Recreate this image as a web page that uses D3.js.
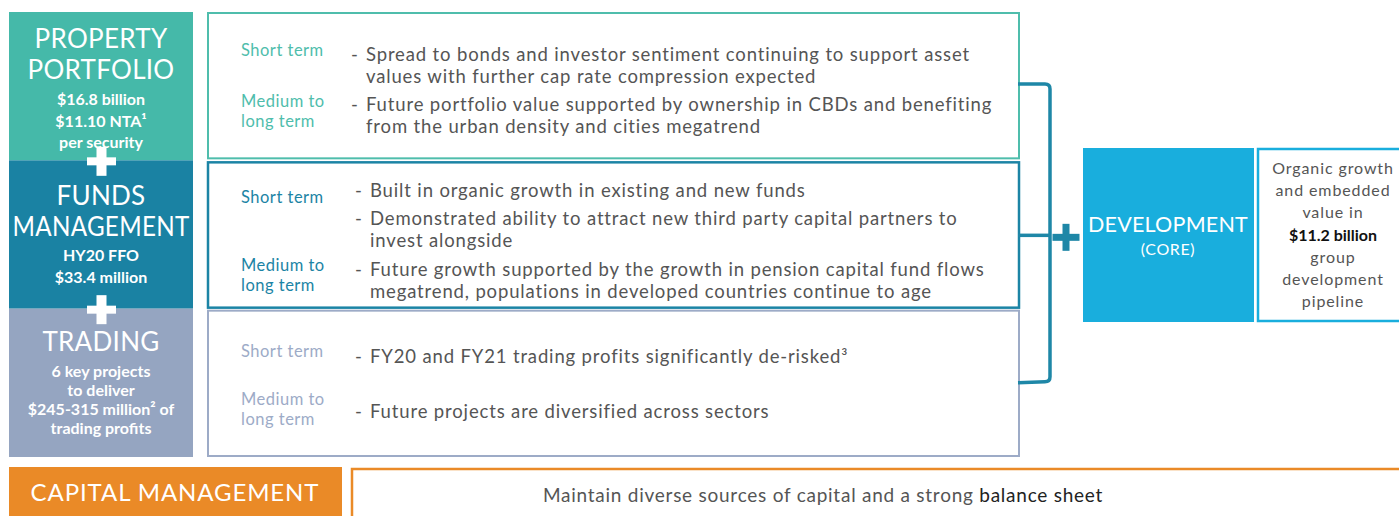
<!DOCTYPE html>
<html>
<head>
<meta charset="utf-8">
<script src="https://cdn.jsdelivr.net/npm/d3@7"></script>
<style>
  body { margin: 0; background: #fff; }
  svg { display: block; font-family: Lato, "Open Sans", sans-serif; }
</style>
</head>
<body>
<div id="chart"></div>
<script>
// pilares do lado esquerdo
const pillars = ["property", "funds", "trading"];
const pillarTitles = [["PROPERTY", "PORTFOLIO"], ["FUNDS", "MANAGEMENT"], ["TRADING"]];
const pillarDetails = [
  ["$16.8 billion", "$11.10 NTA¹", "per security"],
  ["HY20 FFO", "$33.4 million"],
  ["6 key projects", "to deliver", "$245-315 million² of", "trading profits"]
];
const termLabels = [["Short term"], ["Medium to", "long term"]];

// bullets: cada item é um marcador com suas linhas
const shortTermBullets = [
  [["Spread to bonds and investor sentiment continuing to support asset", "values with further cap rate compression expected"]],
  [["Built in organic growth in existing and new funds"], ["Demonstrated ability to attract new third party capital partners to", "invest alongside"]],
  [["FY20 and FY21 trading profits significantly de-risked³"]]
];
const mediumTermBullets = [
  [["Future portfolio value supported by ownership in CBDs and benefiting", "from the urban density and cities megatrend"]],
  [["Future growth supported by the growth in pension capital fund flows", "megatrend, populations in developed countries continue to age"]],
  [["Future projects are diversified across sectors"]]
];

const devTitle = ["DEVELOPMENT", "(CORE)"];
const devText = ["Organic growth", "and embedded", "value in", "$11.2 billion", "group", "development", "pipeline"];
const capitalTitle = "CAPITAL MANAGEMENT";
const capitalText = ["Maintain diverse sources of capital and a strong ", "balance sheet"];

const W = 1399, H = 516;
const colors = { property: "#45b9a9", funds: "#1a82a3", trading: "#95a5c1" };
const borders = { property: "#4fbdac", funds: "#1c84a5", trading: "#9dabc7" };
const textGrey = "#555";

const svg = d3.select("#chart").append("svg").attr("width", W).attr("height", H);

const y = d3.scaleBand().domain(pillars).range([12, 457]).paddingInner(0);

// posições verticais dentro de cada linha (relativas ao topo)
const layout = {
  property: { short: 44, shortB: [49], medium: 95, mediumB: [99] },
  funds: { short: 43, shortB: [37, 65], medium: 111, mediumB: [116] },
  trading: { short: 48, shortB: [54], medium: 96, mediumB: [109] }
};
const lineH = 22;

// caixas coloridas da esquerda
const left = svg.append("g");
left.selectAll("rect").data(pillars).join("rect")
  .attr("x", 9).attr("y", d => y(d))
  .attr("width", 184).attr("height", y.bandwidth())
  .attr("fill", d => colors[d]);

pillars.forEach((p, i) => {
  const g = left.append("g").attr("transform", `translate(101,${y(p)})`);
  const tops = i === 0 ? [36, 67] : i === 1 ? [45, 76] : [42];
  g.selectAll("text.t").data(pillarTitles[i]).join("text")
    .attr("class", "t")
    .attr("y", (d, j) => tops[j])
    .attr("text-anchor", "middle").attr("fill", "#fff")
    .attr("font-size", 26).attr("letter-spacing", 0.3)
    .text(d => d)
    .each(function () {
      // encolhe linhas largas demais para caber na caixa
      if (this.getComputedTextLength() > 177) {
        d3.select(this).attr("textLength", 177).attr("lengthAdjust", "spacingAndGlyphs");
      }
    });
  const d0 = i === 0 ? 93 : i === 1 ? 101 : 68;
  const dh = i === 2 ? 19 : 21.5;
  g.selectAll("text.d").data(pillarDetails[i]).join("text")
    .attr("class", "d")
    .attr("y", (d, j) => d0 + j * dh)
    .attr("text-anchor", "middle").attr("fill", "#fff")
    .attr("font-size", 16).attr("font-weight", 700)
    .text(d => d);
});

// sinais de mais entre os pilares
function plus(g, cx, cy, arm, thickH, thickV, color) {
  g.append("rect").attr("x", cx - arm / 2).attr("y", cy - thickH / 2)
    .attr("width", arm).attr("height", thickH).attr("fill", color);
  g.append("rect").attr("x", cx - thickV / 2).attr("y", cy - arm / 2)
    .attr("width", thickV).attr("height", arm).attr("fill", color);
}
pillars.slice(1).forEach(p => plus(left, 101.5, y(p) + 1, 29, 8, 10, "#fff"));

// caixas de texto do meio
const mid = svg.append("g");
pillars.forEach((p, i) => {
  const top = y(p);
  const bw = i === 1 ? 2.5 : 2;
  mid.append("rect")
    .attr("x", 208).attr("y", top + (i === 0 ? 1 : 2))
    .attr("width", 811).attr("height", y.bandwidth() - 3)
    .attr("fill", "#fff").attr("stroke", borders[p]).attr("stroke-width", bw);

  const L = layout[p];
  const labelColor = borders[p];
  mid.append("text").attr("x", 241).attr("y", top + L.short)
    .attr("fill", labelColor).attr("font-size", 16.5).attr("letter-spacing", 0.5)
    .text(termLabels[0][0]);
  mid.selectAll(null).data(termLabels[1]).join("text")
    .attr("x", 241).attr("y", (d, j) => top + L.medium + j * 20)
    .attr("fill", labelColor).attr("font-size", 16.5).attr("letter-spacing", 0.5)
    .text(d => d);

  const dashX = i === 0 ? 351 : 355;
  const txtX = i === 0 ? 366 : 370;
  const drawBullets = (bullets, ys) => {
    bullets.forEach((lines, k) => {
      mid.append("text").attr("x", dashX).attr("y", top + ys[k])
        .attr("fill", textGrey).attr("font-size", 18.5).text("-");
      lines.forEach((ln, j) => {
        mid.append("text").attr("x", txtX).attr("y", top + ys[k] + j * lineH)
          .attr("fill", textGrey).attr("font-size", 18.5).attr("letter-spacing", 0.85)
          .text(ln);
      });
    });
  };
  drawBullets(shortTermBullets[i], L.shortB);
  drawBullets(mediumTermBullets[i], L.mediumB);
});

// chave que junta os três pilares
const bracket = svg.append("g");
const bTop = y("property") + 72, bBot = y("trading") + 73, bMid = y("funds") + 75;
const p = d3.path();
p.moveTo(1018, bTop);
p.lineTo(1045, bTop);
p.quadraticCurveTo(1050, bTop, 1050, bTop + 5);
p.lineTo(1050, bBot - 5);
p.quadraticCurveTo(1050, bBot, 1045, bBot);
p.lineTo(1018, bBot + 1);
bracket.append("path").attr("d", p.toString())
  .attr("fill", "none").attr("stroke", "#1e87a7").attr("stroke-width", 3.5);
bracket.append("line").attr("x1", 1018).attr("x2", 1050)
  .attr("y1", bMid).attr("y2", bMid)
  .attr("stroke", "#1e87a7").attr("stroke-width", 3.5);
plus(bracket, 1066, bMid + 2, 27, 7, 7, "#1e87a7");

// desenvolvimento
const dev = svg.append("g");
dev.append("rect").attr("x", 1083).attr("y", 148).attr("width", 171).attr("height", 174)
  .attr("fill", "#19aedd");
dev.selectAll("text.dt").data(devTitle).join("text").attr("class", "dt")
  .attr("x", 1168).attr("y", (d, j) => j ? 255 : 232)
  .attr("text-anchor", "middle").attr("fill", "#fff")
  .attr("letter-spacing", (d, j) => j ? 0.6 : 0.2)
  .attr("font-size", (d, j) => j ? 16 : 21.5).text(d => d);
dev.append("rect").attr("x", 1258).attr("y", 149).attr("width", 145).attr("height", 172)
  .attr("fill", "#fff").attr("stroke", "#19aedd").attr("stroke-width", 2.5);
dev.selectAll("text.dx").data(devText).join("text").attr("class", "dx")
  .attr("x", 1333).attr("y", (d, j) => 174 + j * 22.2)
  .attr("text-anchor", "middle")
  .attr("fill", d => d.startsWith("$") ? "#111" : textGrey)
  .attr("font-weight", d => d.startsWith("$") ? 700 : 400)
  .attr("letter-spacing", d => d.startsWith("$") ? 0 : 0.9)
  .attr("font-size", 16).text(d => d);

// gestão de capital
const cap = svg.append("g");
cap.append("rect").attr("x", 9).attr("y", 467).attr("width", 333).attr("height", 60)
  .attr("fill", "#ea8a27");
cap.append("text").attr("x", 175).attr("y", 501).attr("text-anchor", "middle")
  .attr("fill", "#fff").attr("font-size", 24).attr("letter-spacing", 0.9).text(capitalTitle);
cap.append("rect").attr("x", 352).attr("y", 469).attr("width", 1060).attr("height", 60)
  .attr("fill", "#fff").attr("stroke", "#ea8a27").attr("stroke-width", 2.5);
const ct = cap.append("text").attr("x", 823).attr("y", 502).attr("text-anchor", "middle")
  .attr("font-size", 19).attr("letter-spacing", 0.75);
ct.append("tspan").attr("fill", textGrey).text(capitalText[0]);
ct.append("tspan").attr("fill", "#222").text(capitalText[1]);
</script>
</body>
</html>
